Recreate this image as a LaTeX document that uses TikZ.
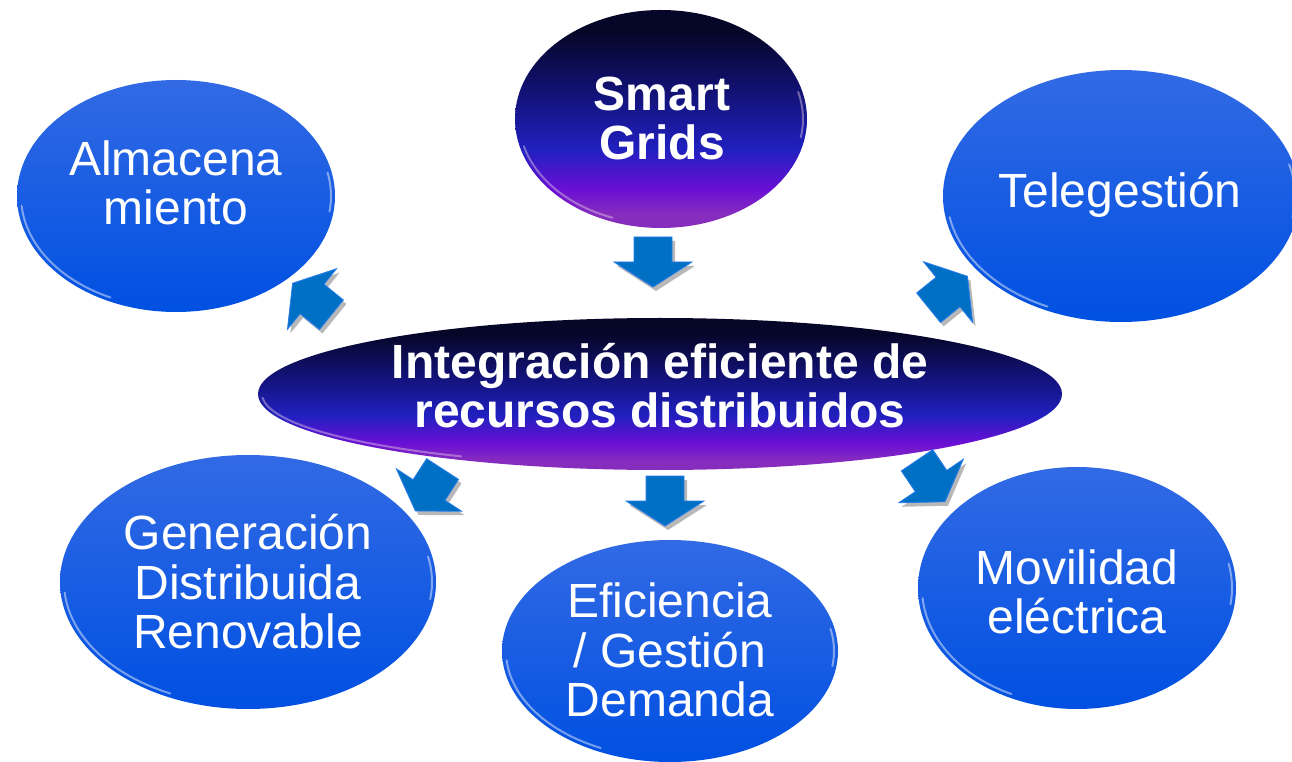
\documentclass[tikz,border=0pt]{standalone}
\usepackage{fontspec}
\setmainfont{Liberation Sans}
\usetikzlibrary{shapes.geometric}
\definecolor{bTop}{RGB}{50,106,228}
\definecolor{bBot}{RGB}{0,80,226}
\definecolor{dA}{RGB}{135,45,190}
\definecolor{dB}{RGB}{105,15,212}
\definecolor{dC}{RGB}{32,32,192}
\definecolor{dD}{RGB}{16,16,108}
\definecolor{dE}{RGB}{6,6,40}
\definecolor{arrowblue}{RGB}{0,112,196}
\definecolor{arrowedge}{RGB}{40,125,235}
\pgfdeclareverticalshading{blueglossy}{100bp}{color(0bp)=(bBot); color(25bp)=(bBot); color(75bp)=(bTop); color(100bp)=(bTop)}
\pgfdeclareverticalshading{darkglossy}{100bp}{color(0bp)=(dA); color(28bp)=(dA); color(34bp)=(dB); color(43bp)=(dC); color(58bp)=(dD); color(70bp)=(dE); color(100bp)=(dE)}
\tikzset{
  ell/.style={ellipse, inner sep=0pt, outer sep=0pt, draw=none},
  blueell/.style={ell, shading=blueglossy},
  darkell/.style={ell, shading=darkglossy},
  reglabel/.style={text=white, align=center, inner sep=0pt, font=\fontsize{48}{49.5}\selectfont},
  boldlabel/.style={text=white, align=center, inner sep=0pt, font=\fontsize{48}{49}\selectfont\bfseries},
  rimw/.style={draw=white, line width=2pt, opacity=0.45, line cap=round},
  rimd/.style={draw=white!80!violet, line width=2pt, opacity=0.45, line cap=round},
}
\newcommand\barrow[3]{%
  \begin{scope}[shift={(#1,#2)}]
    \fill[black, opacity=0.28, shift={(3,-4)}, rotate=#3] (-25,-19) -- (0,-19) -- (0,-39) -- (25,0) -- (0,39) -- (0,19) -- (-25,19) -- cycle;
    \filldraw[fill=arrowblue, draw=arrowedge, line width=0.8pt, line join=miter, rotate=#3] (-25,-19) -- (0,-19) -- (0,-39) -- (25,0) -- (0,39) -- (0,19) -- (-25,19) -- cycle;
  \end{scope}}
\newcommand\rimarc[7]{% style, cx, cy, rx, ry, a1, a2
  \draw[#1] (#2,#3) ++(#6:{#4-4} and {#5-4}) arc[start angle=#6, end angle=#7, x radius=#4-4, y radius=#5-4];}
\begin{document}
\begin{tikzpicture}[x=1pt,y=1pt]
\useasboundingbox (0,0) rectangle (1292,761);
\clip (0,0) rectangle (1292,761);
\fill[white] (0,0) rectangle (1292,761);

% ellipses
\node[darkell, minimum width=292, minimum height=218] (sg) at (661,642) {};
\node[blueell, minimum width=318, minimum height=232] (alm) at (176,565) {};
\node[blueell, minimum width=356, minimum height=252] (tel) at (1121,565) {};
\node[darkell, minimum width=804, minimum height=152] (cen) at (660,367) {};
\node[blueell, minimum width=376, minimum height=254] (gen) at (248,179) {};
\node[blueell, minimum width=336, minimum height=222] (efi) at (670,110) {};
\node[blueell, minimum width=318, minimum height=242] (mov) at (1077,173) {};

% glossy rims
\rimarc{rimd}{661}{642}{146}{109}{195}{250}
\rimarc{rimd}{661}{642}{146}{109}{-10}{15}
\rimarc{rimw}{176}{565}{159}{116}{185}{245}
\rimarc{rimw}{176}{565}{159}{116}{-8}{12}
\rimarc{rimw}{1121}{565}{178}{126}{190}{245}
\rimarc{rimw}{1121}{565}{178}{126}{-10}{15}
\rimarc{rimd}{660}{367}{402}{76}{183}{240}
\rimarc{rimw}{248}{179}{188}{127}{185}{245}
\rimarc{rimw}{248}{179}{188}{127}{-8}{12}
\rimarc{rimw}{670}{110}{168}{111}{185}{245}
\rimarc{rimw}{670}{110}{168}{111}{-8}{12}
\rimarc{rimw}{1077}{173}{159}{121}{185}{245}
\rimarc{rimw}{1077}{173}{159}{121}{-8}{12}

% texts
\node[boldlabel] (sgT) at (662,643) {Smart\\Grids};
\node[reglabel] (almT) at (176,578) {Almacena\\miento};
\node[reglabel] (telT) at (1120,566) {Telegestión};
\node[boldlabel] (cenT) at (660,375) {Integración eficiente de\\recursos distribuidos};
\node[reglabel] (genT) at (248,179) {Generación\\Distribuida\\Renovable};
\node[reglabel] (efiT) at (670,111) {Eficiencia\\/ Gestión\\Demanda};
\node[reglabel] (movT) at (1077,169) {Movilidad\\eléctrica};

% block arrows
\barrow{653}{499}{-90}
\barrow{312}{462}{141}
\barrow{948}{469}{39}
\barrow{429}{271}{-123}
\barrow{931}{280}{-56}
\barrow{665}{260}{-90}
\end{tikzpicture}
\end{document}
